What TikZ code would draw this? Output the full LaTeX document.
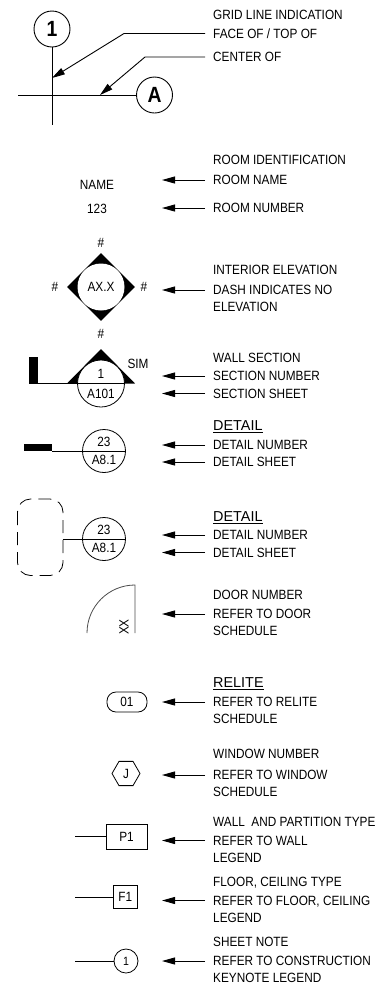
\documentclass[tikz,border=0pt]{standalone}
\usepackage{fontspec}
\setmainfont[FakeStretch=0.88]{Liberation Sans}
\newfontfamily\headfont{Liberation Sans}
\usetikzlibrary{positioning,
        shapes.geometric,
        arrows.meta}
\tikzset{
    notetext/.style={anchor=west,inner xsep=8pt,inner ysep=0pt,text height=9.5pt,text depth=0pt,font=\fontsize{13.4}{14}\selectfont},
    headtext/.style={notetext,font=\headfont\fontsize{14.4}{15}\selectfont},
    symtext/.style={inner sep=0pt,font=\fontsize{13.4}{14}\selectfont},
    gridtext/.style={circle,draw,line width=0.9pt,minimum size=36pt,inner sep=0pt,font=\fontsize{22}{23}\selectfont\bfseries},
    bubble/.style={circle,draw,fill=white,inner sep=0pt},
    leadarrow/.style={line width=0.9pt,-{Triangle[length=13pt,width=7pt]}},
    thinline/.style={line width=0.8pt}
}

\begin{document}
\begin{tikzpicture}[x=1pt,y=-1pt]
        \useasboundingbox (0,0) rectangle (379,986);

        \node [notetext] (gridnote) at (205,15) {GRID LINE INDICATION};
        \node [notetext] (facenote) at (205,33.5) {FACE OF / TOP OF};
        \node [notetext] (centernote) at (205,57) {CENTER OF};
        \node [notetext] (roomnote) at (205,160) {ROOM IDENTIFICATION};
        \node [notetext] (namenote) at (205,180) {ROOM NAME};
        \node [notetext] (numbernote) at (205,208) {ROOM NUMBER};
        \node [notetext] (elevnote) at (205,270) {INTERIOR ELEVATION};
        \node [notetext] (dashnote) at (205,290) {DASH INDICATES NO};
        \node [notetext] (elevnotetwo) at (205,307) {ELEVATION};
        \node [notetext] (wallnote) at (205,358) {WALL SECTION};
        \node [notetext] (secnumnote) at (205,376) {SECTION NUMBER};
        \node [notetext] (secsheetnote) at (205,393.5) {SECTION SHEET};
        \node [headtext] (detailnote) at (205,426) {\underline{DETAIL}};
        \node [notetext] (detnumnote) at (205,445) {DETAIL NUMBER};
        \node [notetext] (detsheetnote) at (205,462) {DETAIL SHEET};
        \node [headtext] (detailnotetwo) at (205,517) {\underline{DETAIL}};
        \node [notetext] (detnumnotetwo) at (205,535) {DETAIL NUMBER};
        \node [notetext] (detsheetnotetwo) at (205,552.5) {DETAIL SHEET};
        \node [notetext] (doornote) at (205,595) {DOOR NUMBER};
        \node [notetext] (doorrefnote) at (205,614) {REFER TO DOOR};
        \node [notetext] (doorschednote) at (205,631) {SCHEDULE};
        \node [headtext] (relitenote) at (205,683) {\underline{RELITE}};
        \node [notetext] (reliterefnote) at (205,702) {REFER TO RELITE};
        \node [notetext] (reliteschednote) at (205,719) {SCHEDULE};
        \node [notetext] (windownote) at (205,754) {WINDOW NUMBER};
        \node [notetext] (windowrefnote) at (205,775) {REFER TO WINDOW};
        \node [notetext] (windowschednote) at (205,792) {SCHEDULE};
        \node [notetext] (partnote) at (205,822) {WALL\ \ AND PARTITION TYPE};
        \node [notetext] (partrefnote) at (205,840.5) {REFER TO WALL};
        \node [notetext] (partlegnote) at (205,858) {LEGEND};
        \node [notetext] (floornote) at (205,882) {FLOOR, CEILING TYPE};
        \node [notetext] (floorrefnote) at (205,900.5) {REFER TO FLOOR, CEILING};
        \node [notetext] (floorlegnote) at (205,918) {LEGEND};
        \node [notetext] (sheetnote) at (205,942) {SHEET NOTE};
        \node [notetext] (sheetrefnote) at (205,961) {REFER TO CONSTRUCTION};
        \node [notetext] (sheetlegnote) at (205,978) {KEYNOTE LEGEND};

        \node [gridtext] (grid1) at (52,29) {1};
        \node [gridtext] (gridA) at (154.5,95) {A};
        \coordinate (gridbottom) at (52,125);
        \coordinate (gridleft) at (18,95);
        \coordinate (facebend) at (124,33.5);
        \coordinate (facetip) at (52,78);
        \coordinate (centerbend) at (145,57);
        \coordinate (centertip) at (100,95);
        \draw [thinline] (grid1) -- (gridbottom);
        \draw [thinline] (gridleft) -- (gridA);
        \draw [leadarrow] (facenote.west) -- (facebend) -- (facetip);
        \draw [leadarrow] (centernote.west) -- (centerbend) -- (centertip);

        \node [symtext] (roomname) at (97,185) {NAME};
        \node [symtext] (roomnumber) at (97,209) {123};
        \coordinate (nametip) at (162,180);
        \coordinate (numbertip) at (162,208);
        \draw [leadarrow] (namenote.west) -- (nametip);
        \draw [leadarrow] (numbernote.west) -- (numbertip);

        \node [diamond,fill=black,aspect=1,inner sep=0pt,minimum size=68pt] (elevdiamond) at (101,287) {};
        \node [bubble,draw=none,minimum size=47pt,font=\fontsize{13.4}{14}\selectfont] (elevbubble) at (101,287) {AX.X};
        \node [symtext] (elevtop) at (101,243) {\#};
        \node [symtext] (elevbottom) at (101,334) {\#};
        \node [symtext] (elevleft) at (55,287) {\#};
        \node [symtext] (elevright) at (144,287) {\#};
        \coordinate (dashtip) at (162,290);
        \draw [leadarrow] (dashnote.west) -- (dashtip);

        \coordinate (secleft) at (67,383.5);
        \coordinate (secapex) at (101,349);
        \coordinate (secright) at (135,383.5);
        \coordinate (secwall) at (37,383.5);
        \fill (secleft) -- (secapex) -- (secright) -- cycle;
        \fill (29,357) rectangle (37.5,383.5);
        \node [bubble,thinline,minimum size=47pt] (secbubble) at (101,383.5) {};
        \draw [thinline] (secwall) -- (secbubble.east);
        \node [symtext] (secnum) at (101,373.5) {1};
        \node [symtext] (secsheet) at (101,394) {A101};
        \node [symtext] (secsim) at (138,364) {SIM};
        \coordinate (secnumtip) at (162,376);
        \coordinate (secsheettip) at (162,393.5);
        \draw [leadarrow] (secnumnote.west) -- (secnumtip);
        \draw [leadarrow] (secsheetnote.west) -- (secsheettip);

        \fill (24,444) rectangle (52,451);
        \coordinate (detwall) at (52,451);
        \node [bubble,thinline,minimum size=43pt] (detbubble) at (104,451) {};
        \draw [thinline] (detwall) -- (detbubble.east);
        \node [symtext] (detnum) at (104,442) {23};
        \node [symtext] (detsheet) at (104,460) {A8.1};
        \coordinate (detnumtip) at (162,445);
        \coordinate (detsheettip) at (162,462);
        \draw [leadarrow] (detnumnote.west) -- (detnumtip);
        \draw [leadarrow] (detsheetnote.west) -- (detsheettip);

        \draw [thinline,rounded corners=13pt,dash pattern=on 13pt off 7pt] (17.5,499) rectangle (63,575.5);
        \coordinate (dettwowall) at (62.5,539);
        \node [bubble,thinline,minimum size=43pt] (detbubbletwo) at (104,539) {};
        \draw [thinline] (dettwowall) -- (detbubbletwo.east);
        \node [symtext] (detnumtwo) at (104,530) {23};
        \node [symtext] (detsheettwo) at (104,548) {A8.1};
        \coordinate (detnumtiptwo) at (162,535);
        \coordinate (detsheettiptwo) at (162,552.5);
        \draw [leadarrow] (detnumnotetwo.west) -- (detnumtiptwo);
        \draw [leadarrow] (detsheetnotetwo.west) -- (detsheettiptwo);

        \coordinate (doortop) at (135,585);
        \coordinate (doorbottom) at (135,633);
        \coordinate (doorswing) at (87,633);
        \draw [thinline,black!70] (doorbottom) -- (doortop) .. controls (108.5,585) and (87,606.5) .. (doorswing);
        \node [symtext,rotate=90] (doornum) at (124,627) {XX};
        \coordinate (doortip) at (162,614);
        \draw [leadarrow] (doorrefnote.west) -- (doortip);

        \node [rounded corners=9pt,draw,thinline,minimum width=40pt,minimum height=20pt,inner sep=0pt,font=\fontsize{13.4}{14}\selectfont] (relite) at (127,702) {01};
        \coordinate (relitetip) at (162,702);
        \draw [leadarrow] (reliterefnote.west) -- (relitetip);

        \node [regular polygon,regular polygon sides=6,draw,thinline,minimum size=28pt,inner sep=0pt,font=\fontsize{13.4}{14}\selectfont] (window) at (126,773.5) {J};
        \coordinate (windowtip) at (162,775);
        \draw [leadarrow] (windowrefnote.west) -- (windowtip);

        \node [draw,thinline,minimum width=41pt,minimum height=25pt,inner sep=0pt,font=\fontsize{13.4}{14}\selectfont] (partbox) at (126.5,836.5) {P1};
        \coordinate (partend) at (75,836.5);
        \coordinate (parttip) at (162,840.5);
        \draw [thinline] (partend) -- (partbox);
        \draw [leadarrow] (partrefnote.west) -- (parttip);

        \node [draw,thinline,minimum width=23.5pt,minimum height=23pt,inner sep=0pt,font=\fontsize{13.4}{14}\selectfont] (floorbox) at (125.3,897) {F1};
        \coordinate (floorend) at (75,897);
        \coordinate (floortip) at (162,900.5);
        \draw [thinline] (floorend) -- (floorbox);
        \draw [leadarrow] (floorrefnote.west) -- (floortip);

        \node [circle,draw,thinline,minimum size=24pt,inner sep=0pt,font=\fontsize{12}{13}\selectfont] (sheetbubble) at (126,961) {1};
        \coordinate (sheetend) at (75,961);
        \coordinate (sheettip) at (162,961);
        \draw [thinline] (sheetend) -- (sheetbubble);
        \draw [leadarrow] (sheetrefnote.west) -- (sheettip);
    \end{tikzpicture}
\end{document}
